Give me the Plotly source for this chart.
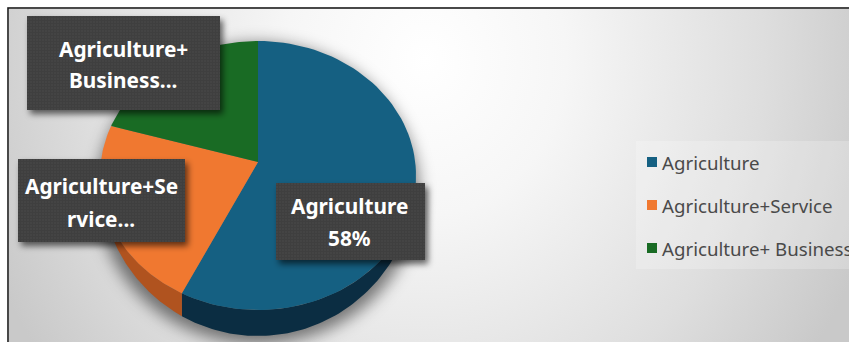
import base64
import math
import plotly.graph_objects as go

# Shares of farm households by income source
categories = ["Agriculture", "Agriculture+Service", "Agriculture+ Business"]
shares = [58, 23, 19]
top_colors = ["#156082", "#F07830", "#196B24"]
wall_colors = ["#0B2D42", "#B0531F", "#0E3D15"]

# Text shown on each callout, line by line
callout_lines = [
    ["Agriculture", f"{shares[0]}%"],
    ["Agriculture+Se", "rvice..."],
    ["Agriculture+", "Business..."],
]

W, H = 849, 342
CX, CY, RX, RY, DEPTH = 258, 175.5, 158, 134.5, 26
APEX_X, APEX_Y = 258, 162
FONT = "Noto Sans"


def rim(turn, extrude=0.0):
    """Point on the tilted pie's rim, for a clockwise fraction of a turn from 12 o'clock.

    With extrude=1 the point lies on the lower edge of the side wall, whose
    visible height fades to nothing at 3 and 9 o'clock.
    """
    a = 2 * math.pi * turn
    drop = extrude * DEPTH * max(-math.cos(a), 0.0)
    return CX + RX * math.sin(a), CY - RY * math.cos(a) + drop


def arc(t0, t1, extrude=0.0, steps=90):
    pts = [rim(t0 + (t1 - t0) * i / steps, extrude) for i in range(steps + 1)]
    return [p[0] for p in pts], [p[1] for p in pts]


def data_uri(svg):
    return "data:image/svg+xml;base64," + base64.b64encode(svg.encode()).decode()


# Slide backdrop: radial grey wash, frame, legend panel and the pie's soft cast shadow
backdrop = f"""<svg xmlns="http://www.w3.org/2000/svg" width="{W}" height="{H}" viewBox="0 0 {W} {H}">
<defs>
<radialGradient id="wash" gradientUnits="userSpaceOnUse" cx="425" cy="60" r="470"
  gradientTransform="translate(425 60) scale(1 1.1) translate(-425 -60)">
<stop offset="0" stop-color="#ffffff"/><stop offset=".3" stop-color="#f6f6f6"/>
<stop offset=".72" stop-color="#dedede"/><stop offset="1" stop-color="#c9c9c9"/></radialGradient>
<filter id="soft" x="-30%" y="-30%" width="160%" height="160%"><feGaussianBlur stdDeviation="8"/></filter>
</defs>
<rect width="{W}" height="{H}" fill="#ffffff"/>
<rect x="9" y="9" width="{W}" height="{H}" fill="url(#wash)"/>
<rect x="8" y="8" width="{W}" height="{H}" fill="none" stroke="#1c1c1c" stroke-width="1.6"/>
<rect x="636" y="141" width="230" height="128" fill="#ffffff" fill-opacity=".22"/>
<ellipse cx="{CX}" cy="{CY + DEPTH / 2 + 5}" rx="{RX + 3}" ry="{RY + DEPTH / 2 + 3}" fill="#000" fill-opacity=".5" filter="url(#soft)"/>
</svg>"""

# Dark callout plates with a fine dot texture and a drop shadow, laid over the pie
plates = [(276, 183, 149, 77), (18, 159, 167, 83), (27, 16, 193, 94)]
rects = "".join(
    f'<rect x="{x + 3}" y="{y + 4}" width="{w}" height="{h}" fill="#000" fill-opacity=".6" filter="url(#soft)"/>'
    f'<rect x="{x}" y="{y}" width="{w}" height="{h}" fill="url(#dots)"/>'
    for x, y, w, h in plates
)
overlay = f"""<svg xmlns="http://www.w3.org/2000/svg" width="{W}" height="{H}" viewBox="0 0 {W} {H}">
<defs>
<filter id="soft" x="-20%" y="-20%" width="140%" height="140%"><feGaussianBlur stdDeviation="3"/></filter>
<pattern id="dots" width="3" height="3" patternUnits="userSpaceOnUse">
<rect width="3" height="3" fill="#3f3f3f"/><circle cx="1" cy="1" r=".7" fill="#4c4c4c"/></pattern>
</defs>{rects}</svg>"""

fig = go.Figure()

# Slice boundaries as cumulative fractions of the whole
total = sum(shares)
bounds = [0]
for s in shares:
    bounds.append(bounds[-1] + s / total)

# Extruded side wall: only the lower half of the rim faces the viewer
for i in range(len(shares)):
    t0, t1 = max(bounds[i], 0.25), min(bounds[i + 1], 0.75)
    if t1 <= t0:
        continue
    xa, ya = arc(t0, t1)
    xb, yb = arc(t0, t1, 1.0)
    fig.add_trace(go.Scatter(
        x=xa + xb[::-1], y=ya + yb[::-1], mode="lines", fill="toself",
        fillcolor=wall_colors[i], line=dict(width=0), hoverinfo="skip", showlegend=False,
    ))

# Top face of every slice
for i, name in enumerate(categories):
    xa, ya = arc(bounds[i], bounds[i + 1])
    fig.add_trace(go.Scatter(
        x=[APEX_X] + xa + [APEX_X], y=[APEX_Y] + ya + [APEX_Y], mode="lines", fill="toself",
        fillcolor=top_colors[i], line=dict(width=0), name=name, showlegend=False,
    ))

# Colour key: square swatches with the category names beside them
KEY_X, KEY_Y, KEY_STEP = 652, 162, 43
fig.add_trace(go.Scatter(
    x=[KEY_X] * len(categories),
    y=[KEY_Y + KEY_STEP * i for i in range(len(categories))],
    mode="markers", marker=dict(symbol="square", size=10, color=top_colors),
    text=categories, hoverinfo="text", showlegend=False,
))

annotations = []
for i, name in enumerate(categories):
    annotations.append(dict(
        x=KEY_X + 8, y=KEY_Y + KEY_STEP * i, xref="x", yref="y", text=name, showarrow=False,
        xanchor="left", yanchor="middle",
        font=dict(family=FONT, size=18.7, color="#4a4a4a"),
    ))

# Callout text, one annotation per line
centres = [(349, [206, 238]), (101, [186, 219]), (123, [49, 80])]
for lines, (x, ys) in zip(callout_lines, centres):
    for line, y in zip(lines, ys):
        annotations.append(dict(
            x=x, y=y, xref="x", yref="y", text=line, showarrow=False,
            xanchor="center", yanchor="middle",
            font=dict(family=FONT, size=20.8, color="#ffffff", weight="bold"),
        ))

fig.update_layout(
    width=W, height=H, margin=dict(l=0, r=0, t=0, b=0, autoexpand=False),
    paper_bgcolor="#ffffff", plot_bgcolor="rgba(0,0,0,0)",
    xaxis=dict(range=[0, W], visible=False, fixedrange=True),
    yaxis=dict(range=[H, 0], visible=False, fixedrange=True),
    images=[
        dict(source=data_uri(backdrop), xref="paper", yref="paper", x=0, y=1, sizex=1, sizey=1,
             xanchor="left", yanchor="top", sizing="stretch", layer="below"),
        dict(source=data_uri(overlay), xref="paper", yref="paper", x=0, y=1, sizex=1, sizey=1,
             xanchor="left", yanchor="top", sizing="stretch", layer="above"),
    ],
    annotations=annotations,
    showlegend=False,
)

fig.write_html("out.html", config={"displayModeBar": False})
